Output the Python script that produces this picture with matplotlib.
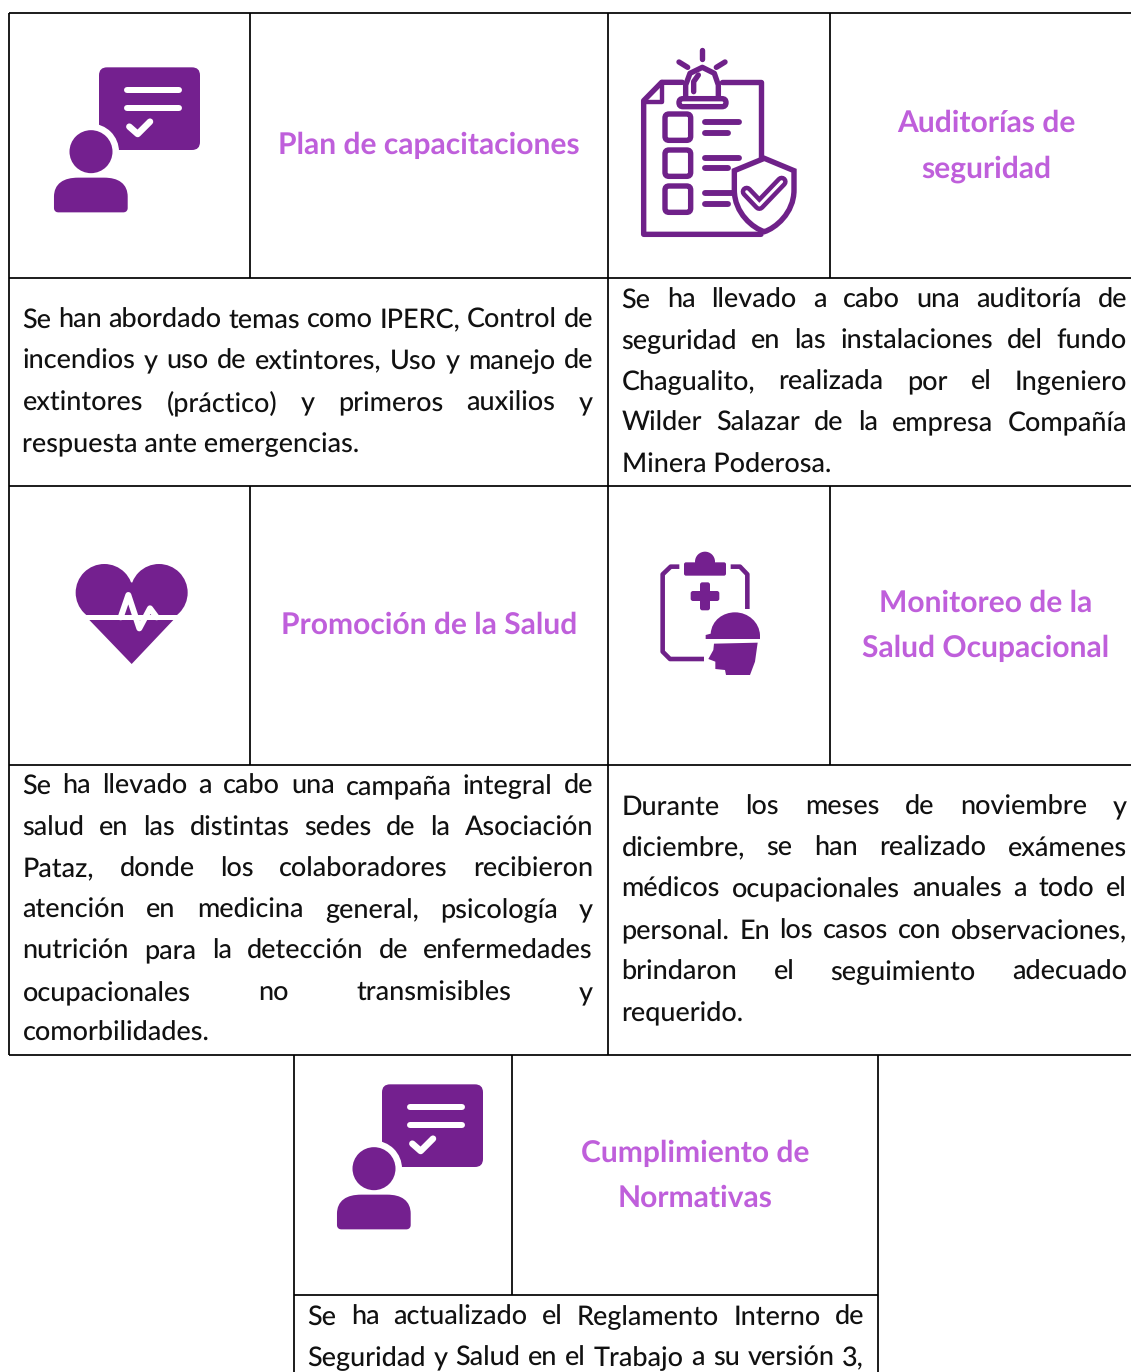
import matplotlib
matplotlib.use("Agg")
import matplotlib.pyplot as plt
from matplotlib.patches import FancyBboxPatch, Circle, Polygon, PathPatch, Rectangle
from matplotlib.path import Path

plt.rcParams["text.hinting"] = "no_hinting"
plt.rcParams["text.hinting_factor"] = 1

W, H = 1131, 1372
PURPLE = "#6F2189"
PURPLE2 = "#74208F"
TITLE = "#BF5FDB"
BODY = "#111111"
FONT = "Lato"
BODY_WEIGHT = "medium"
BODY_SIZE = 19.4
TITLE_SIZE = 21.4

h_rules = [(9, 1131, 13), (9, 1131, 278), (9, 1131, 486), (9, 1131, 765), (9, 1131, 1055), (294, 878, 1295)]
v_rules = [(9, 13, 1055), (250, 13, 278), (608, 13, 1055), (830, 13, 278),
           (250, 486, 765), (830, 486, 765), (294, 1055, 1372), (512, 1055, 1295), (878, 1055, 1372)]

titles = [
    (["Plan de capacitaciones"], 429, [142.5]),
    (["Auditorías de", "seguridad"], 986, [121, 166]),
    (["Promoción de la Salud"], 429, [623]),
    (["Monitoreo de la", "Salud Ocupacional"], 986, [601, 646]),
    (["Cumplimiento de", "Normativas"], 695, [1150.5, 1195.5]),
]

para1 = ["Se han abordado temas como IPERC, Control de",
         "incendios y uso de extintores, Uso y manejo de",
         "extintores (práctico) y primeros auxilios y",
         "respuesta ante emergencias."]
para2 = ["Se ha llevado a cabo una auditoría de",
         "seguridad en las instalaciones del fundo",
         "Chagualito, realizada por el Ingeniero",
         "Wilder Salazar de la empresa Compañía",
         "Minera Poderosa."]
para3 = ["Se ha llevado a cabo una campaña integral de",
         "salud en las distintas sedes de la Asociación",
         "Pataz, donde los colaboradores recibieron",
         "atención en medicina general, psicología y",
         "nutrición para la detección de enfermedades",
         "ocupacionales no transmisibles y",
         "comorbilidades."]
para4 = ["Durante los meses de noviembre y",
         "diciembre, se han realizado exámenes",
         "médicos ocupacionales anuales a todo el",
         "personal. En los casos con observaciones,",
         "brindaron el seguimiento adecuado",
         "requerido."]
para5 = ["Se ha actualizado el Reglamento Interno de",
         "Seguridad y Salud en el Trabajo a su versión 3,"]

paragraphs = [
    (para1, 22.5, 593, [328, 369, 411, 452], True),
    (para2, 621.5, 1127, [308, 349, 390, 431, 473], True),
    (para3, 22.5, 593, [794, 836, 877, 918, 959, 1001, 1041], True),
    (para4, 621.5, 1127, [815, 856, 897, 939, 980, 1021], True),
    (para5, 307.5, 864, [1325, 1366], False),
]

fig = plt.figure(figsize=(W / 100, H / 100), dpi=100, facecolor="white")
ax = fig.add_axes([0, 0, 1, 1])
ax.set_xlim(0, W)
ax.set_ylim(H, 0)
ax.axis("off")

for x0, x1, y in h_rules:
    ax.plot([x0, x1], [y, y], color="black", lw=1.25, solid_capstyle="butt")
for x, y0, y1 in v_rules:
    ax.plot([x, x], [y0, y1], color="black", lw=1.25, solid_capstyle="butt")

for lines, cx, ys in titles:
    for s, y in zip(lines, ys):
        ax.text(cx, y, s, family=FONT, weight="bold", fontsize=TITLE_SIZE, color=TITLE,
                ha="center", va="center_baseline")

renderer = fig.canvas.get_renderer()


def body_text(x, y, s):
    return ax.text(x, y, s, family=FONT, weight=BODY_WEIGHT, fontsize=BODY_SIZE, color=BODY, va="baseline")


def width(s):
    t = body_text(0, 0, s)
    w = t.get_window_extent(renderer).width
    t.remove()
    return w


for lines, x0, x1, ys, last_free in paragraphs:
    for i, (s, y) in enumerate(zip(lines, ys)):
        free = last_free and i == len(lines) - 1
        words = s.split(" ")
        if free or len(words) == 1:
            body_text(x0, y, s)
            continue
        ws = [width(w) for w in words]
        gap = (x1 - x0 - sum(ws)) / (len(words) - 1)
        x = x0
        for w, wd in zip(words, ws):
            body_text(x, y, w)
            x += wd + gap


def Z(ox, oy):
    return lambda x, y: (ox + x / 3, oy + y / 3)


def stroke(z, pts, lw, color=PURPLE, cap="round", zorder=3):
    p = [z(*q) for q in pts]
    ax.plot([a for a, _ in p], [b for _, b in p], color=color, lw=lw * 0.72,
            solid_capstyle=cap, solid_joinstyle="round", zorder=zorder)


def rrect(z, x0, y0, x1, y1, r, fc, ec="none", lw=0, zorder=3):
    a = z(x0, y0)
    b = z(x1, y1)
    rr = r / 3
    ax.add_patch(FancyBboxPatch((a[0] + rr, a[1] + rr), b[0] - a[0] - 2 * rr, b[1] - a[1] - 2 * rr,
                                boxstyle=f"round,pad={rr},rounding_size={rr}", fc=fc, ec=ec,
                                lw=lw * 0.72, zorder=zorder))


def speech_icon(ox, oy):
    z = Z(ox, oy)
    rrect(z, 207, 82, 510, 330, 24, PURPLE2)
    ax.add_patch(Circle(z(183, 335), 28, fc="white", zorder=3))
    ax.add_patch(Circle(z(183, 335), 21.5, fc=PURPLE2, zorder=4))
    stroke(z, [(290, 151), (447, 151)], 6, "white", zorder=4)
    stroke(z, [(290, 203), (447, 203)], 6, "white", zorder=4)
    stroke(z, [(298, 260), (323, 282), (360, 245)], 6.5, "white", zorder=4)
    pts = [(84, 505), (84, 470), (84, 425), (145, 425), (222, 425), (281, 425), (281, 470), (281, 505), (84, 505)]
    c = [Path.MOVETO, Path.LINETO, Path.CURVE3, Path.CURVE3, Path.LINETO, Path.CURVE3, Path.CURVE3,
         Path.LINETO, Path.CLOSEPOLY]
    ax.add_patch(PathPatch(Path([z(*p) for p in pts], c), fc=PURPLE2, ec=PURPLE2, lw=5.8,
                           joinstyle="round", zorder=4))


speech_icon(30, 40)
speech_icon(313, 1057)

# audit icon
z = Z(625, 40)
LW = 5.4
stroke(z, [(232, 30), (232, 58)], LW)
stroke(z, [(162, 66), (188, 82)], LW)
stroke(z, [(300, 66), (274, 82)], LW)
stroke(z, [(172, 127), (110, 127), (56, 182), (56, 583), (408, 583)], LW)
stroke(z, [(290, 127), (408, 127), (408, 355)], LW)
stroke(z, [(110, 127), (110, 185), (56, 185)], LW - 1)
stroke(z, [(182, 180), (182, 135), (195, 100), (232, 82), (268, 100), (280, 135), (280, 180)], LW)
rrect(z, 162, 176, 303, 200, 12, "white", PURPLE, LW)
stroke(z, [(206, 155), (206, 125), (220, 105)], LW)
for y in (222, 330, 438):
    rrect(z, 120, y, 197, y + 79, 12, "white", PURPLE, LW)
for y0, y1, x1, x2 in [(247, 278, 342, 308), (354, 384, 342, 308), (460, 491, 320, 308)]:
    stroke(z, [(240, y0), (x1, y0)], LW + 0.5)
    stroke(z, [(240, y1), (x2, y1)], LW + 0.5)
pts = [(418, 355), (507, 392), (507, 450), (507, 520), (450, 565), (418, 575),
       (385, 565), (328, 520), (328, 450), (328, 392), (418, 355)]
codes = [Path.MOVETO, Path.LINETO, Path.LINETO, Path.CURVE4, Path.CURVE4, Path.CURVE4,
         Path.CURVE4, Path.CURVE4, Path.CURVE4, Path.LINETO, Path.CLOSEPOLY]
ax.add_patch(PathPatch(Path([z(*p) for p in pts], codes), fc="white", ec=PURPLE, lw=LW * 0.72, zorder=4))
stroke(z, [(365, 455), (403, 495), (470, 425)], 12, zorder=5)
stroke(z, [(365, 455), (403, 495), (470, 425)], 3, "white", zorder=6)

# heart icon
z = Z(50, 540)
ax.add_patch(Circle(z(163, 158), 86 / 3, fc=PURPLE2, ec="none", zorder=3))
ax.add_patch(Circle(z(327, 158), 86 / 3, fc=PURPLE2, ec="none", zorder=3))
ax.add_patch(Polygon([z(163, 158), z(245, 127), z(327, 158), z(327, 226), z(163, 226)], fc=PURPLE2, ec="none", zorder=3))
a = z(60, 226)
b = z(430, 300)
ax.add_patch(Rectangle(a, b[0] - a[0], b[1] - a[1], fc="white", ec="none", zorder=4))
ax.add_patch(Polygon([z(118, 240), z(370, 240), z(245, 372)], fc=PURPLE2, ec="none", zorder=5))
stroke(z, [(212, 232), (235, 165), (268, 265), (300, 205), (320, 232)], 6, "white", zorder=6)

# monitoring icon
z = Z(640, 535)
L = 4.6
stroke(z, [(118, 95), (92, 95), (68, 118), (68, 350), (90, 372), (192, 372)], L, cap="butt")
stroke(z, [(272, 95), (300, 95), (322, 118), (322, 222)], L, cap="butt")
rrect(z, 132, 82, 258, 122, 6, PURPLE2)
ax.add_patch(Circle(z(195, 80), 10, fc=PURPLE2, zorder=3))
rrect(z, 180, 142, 210, 226, 7, PURPLE2)
rrect(z, 152, 168, 238, 198, 7, PURPLE2)
helmet = [(197, 312), (197, 300), (212, 296), (215, 255), (250, 232), (285, 232), (325, 232), (358, 262),
          (360, 300), (360, 312), (197, 312)]
hc = [Path.MOVETO, Path.LINETO, Path.LINETO, Path.CURVE4, Path.CURVE4, Path.CURVE4, Path.CURVE4, Path.CURVE4,
      Path.CURVE4, Path.LINETO, Path.CLOSEPOLY]
ax.add_patch(PathPatch(Path([z(*p) for p in helmet], hc), fc=PURPLE2, ec="none", zorder=4))
ax.add_patch(Polygon([z(222, 326), z(353, 323), z(345, 380), z(330, 420), z(258, 420), z(255, 405), z(226, 402),
                      z(226, 380), z(205, 372), z(220, 345)], fc=PURPLE2, ec="none", zorder=4))

fig.savefig("out.png", dpi=100, facecolor="white")
